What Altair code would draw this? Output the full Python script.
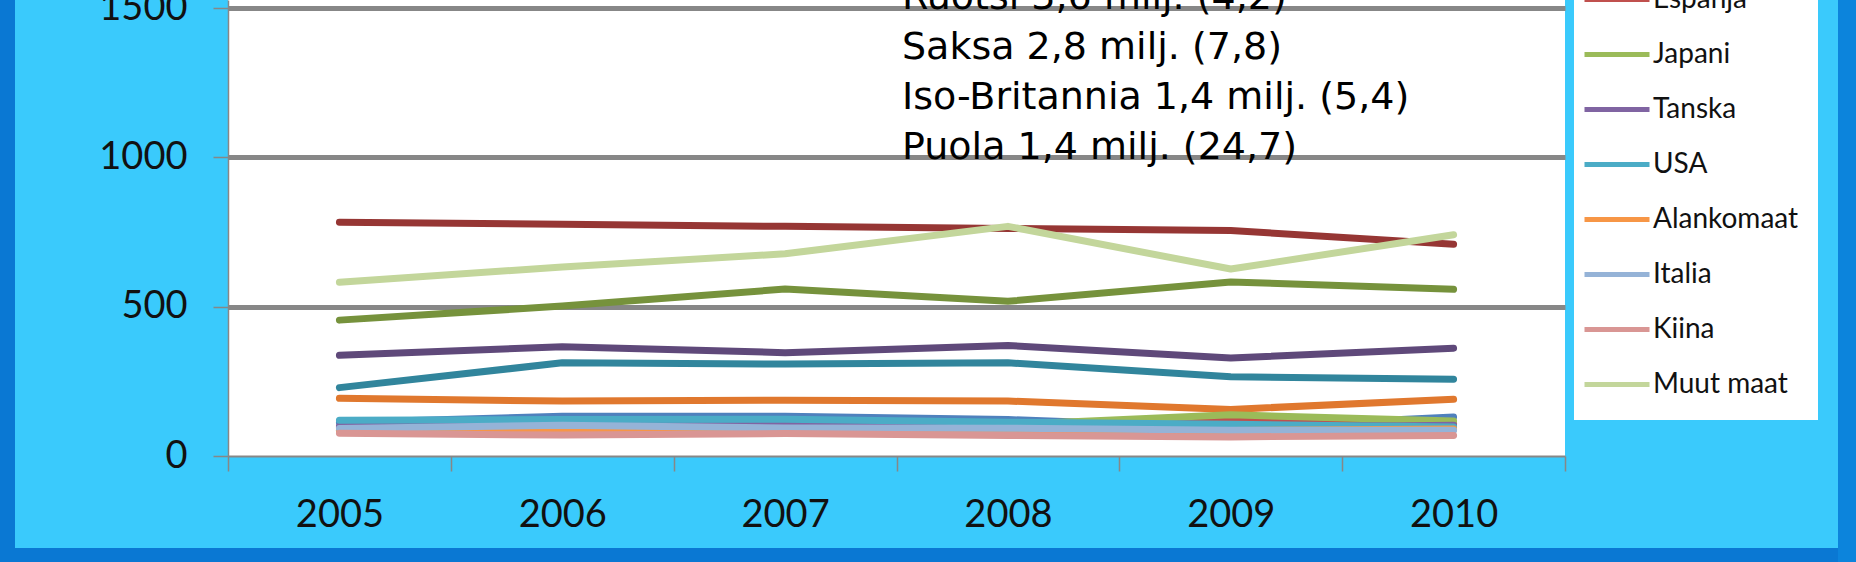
import altair as alt
import pandas as pd

# ---- data ----
years = ["2005", "2006", "2007", "2008", "2009", "2010"]

series_names = ["Norja", "Ranska", "Iso-Britannia", "Viro", "Sveitsi", "Itävalta",
                "Espanja", "Japani", "Tanska", "USA", "Alankomaat",
                "Italia", "Kiina", "Muut maat"]
series_colors = ["#963634", "#76923C", "#5F497A", "#31859C", "#E0782E", "#4F81BD",
                 "#C0504D", "#9BBB59", "#8064A2", "#4BACC6", "#F79646",
                 "#95B3D7", "#D99694", "#C3D69B"]

norja = [783, 776, 769, 762, 755, 709]
ranska = [455, 502, 559, 518, 583, 558]
iso_britannia = [337, 366, 346, 370, 328, 361]
viro = [229, 312, 308, 312, 265, 257]
sveitsi = [193, 184, 187, 184, 156, 190]
itavalta = [112, 133, 133, 122, 95, 131]
espanja = [95, 80, 80, 95, 121, 108]
japani = [86, 88, 88, 105, 138, 117]
tanska = [100, 106, 103, 100, 95, 103]
usa = [120, 122, 123, 113, 106, 97]
alankomaat = [85, 88, 86, 82, 85, 90]
italia = [92, 103, 94, 93, 86, 86]
kiina = [76, 70, 75, 69, 64, 69]
muut_maat = [582, 633, 677, 769, 626, 741]

series_values = [norja, ranska, iso_britannia, viro, sveitsi, itavalta, espanja, japani,
                 tanska, usa, alankomaat, italia, kiina, muut_maat]

y_ticks = [0, 500, 1000, 1500]

annotation_lines = ["Ruotsi 3,6 milj. (4,2)",
                    "Saksa 2,8 milj. (7,8)",
                    "Iso-Britannia 1,4 milj. (5,4)",
                    "Puola 1,4 milj. (24,7)"]

rows = []
for name, vals in zip(series_names, series_values):
    for yr, v in zip(years, vals):
        rows.append({"maa": name, "vuosi": yr, "arvo": v})
df = pd.DataFrame(rows)
one = pd.DataFrame({"k": [0]})

LIGHT = "#3ACAFC"
DARK = "#0A78D3"
GRID = "#878787"

W, H = 1337, 456
PL, PR, PT, PB = 228, 291, 0, 106

# ---- decorative frame ----
frame_left = alt.Chart(one).mark_rect(color=DARK).encode(
    x=alt.value(-PL), x2=alt.value(-PL + 15), y=alt.value(0), y2=alt.value(562))
frame_bottom = alt.Chart(one).mark_rect(color=DARK).encode(
    x=alt.value(-PL), x2=alt.value(W + PR), y=alt.value(548), y2=alt.value(562))
frame_right = alt.Chart(one).mark_rect(color="#0C84DC").encode(
    x=alt.value(1838 - PL), x2=alt.value(W + PR), y=alt.value(0), y2=alt.value(562))

lines = alt.Chart(df).mark_line(strokeWidth=7, strokeCap="round", strokeJoin="round").encode(
    x=alt.X("vuosi:O", bandPosition=0.5,
            scale=alt.Scale(type="band", paddingInner=0, paddingOuter=0, domain=years),
            axis=alt.Axis(title=None, labelAngle=0, labelFont="Lato", labelFontSize=38,
                          labelColor="#111111", labelPadding=25, tickBand="extent",
                          tickSize=15, tickColor=GRID, tickWidth=1.5,
                          domainColor=GRID, domainWidth=2, grid=False)),
    y=alt.Y("arvo:Q",
            scale=alt.Scale(domain=[0, 1527], nice=False, zero=True),
            axis=alt.Axis(title=None, values=y_ticks, format="d", labelFont="Lato",
                          labelFontSize=38, labelColor="#111111", labelPadding=26,
                          tickSize=15, tickColor=GRID, tickWidth=1.5, domainColor=GRID,
                          domainWidth=1.5, gridColor=GRID,
                          gridWidth={"condition": {"test": "datum.value === 0", "value": 0},
                                     "value": 5})),
    color=alt.Color("maa:N", sort=series_names,
                    scale=alt.Scale(domain=series_names, range=series_colors),
                    legend=alt.Legend(orient="none", legendX=1346, legendY=-366,
                                      title=None, fillColor="white", padding=8,
                                      clipHeight=55, rowPadding=0, symbolType="stroke",
                                      symbolSize=4225, symbolStrokeWidth=5,
                                      labelFont="Lato", labelFontSize=28,
                                      labelColor="#111111", labelOffset=1,
                                      labelLimit=400)),
    detail="maa:N",
)

annotation = alt.Chart(one).mark_text(
    align="left", baseline="alphabetic", font="DejaVu Sans", fontSize=38,
    lineHeight=50, color="#000000").encode(
    x=alt.value(674), y=alt.value(9), text=alt.value(annotation_lines))

chart = alt.layer(frame_left, frame_bottom, frame_right, lines, annotation).properties(
    width=W, height=H,
    autosize=alt.AutoSizeParams(type="none"),
    padding={"left": PL, "right": PR, "top": PT, "bottom": PB},
    background=LIGHT,
).configure_view(fill="white", stroke="white", strokeWidth=0)

chart.save("out.html", embed_options={"renderer": "svg", "actions": False})
